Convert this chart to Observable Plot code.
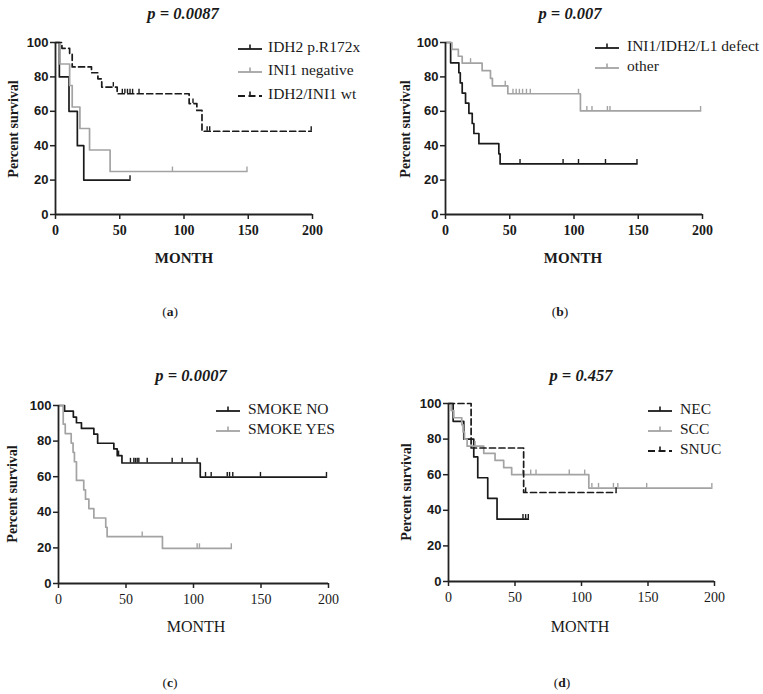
<!DOCTYPE html>
<html><head><meta charset="utf-8">
<script src="https://cdn.jsdelivr.net/npm/d3@7"></script>
<script src="https://cdn.jsdelivr.net/npm/@observablehq/plot@0.6"></script>
<style>
body{margin:0;background:#fff;}
#root{position:relative;width:763px;height:694px;overflow:hidden;font-family:"Liberation Serif",serif;color:#1a1a1a;}
.abs{position:absolute;white-space:nowrap;line-height:1;}
.title{font-weight:bold;font-style:italic;font-size:16.5px;transform:translateX(-50%);}
.ylab{font-weight:bold;font-size:14px;transform:translate(-50%,-50%) rotate(-90deg);}
.xlab{font-size:15px;transform:translateX(-50%);}
.plab{font-size:13.5px;transform:translateX(-50%);}
.leg{font-size:15.5px;transform:translateY(-50%);}
.legsym{transform:translateY(-50%);}
.plot{position:absolute;}
.plot g[aria-label="y-axis tick label"] text{font-family:"Liberation Sans",Arial,sans-serif;font-weight:bold;font-size:13px;}
.plot g[aria-label="x-axis tick label"] text{font-family:"Liberation Serif",serif;font-size:14px;}
.boldx g[aria-label="x-axis tick label"] text{font-weight:bold;}
</style></head><body><div id="root"></div>
<script>
// ---------- data ----------
const monthTicks = [0, 50, 100, 150, 200];
const survivalTicks = [0, 20, 40, 60, 80, 100];

// (a)
const aTitle = "p = 0.0087";
const aNames = ["IDH2 p.R172x", "INI1 negative", "IDH2/INI1 wt"];
const aIdh2Time = [0, 3, 10.5, 17, 22];
const aIdh2Surv = [100, 80, 60, 40, 20];
const aIdh2Cens = [58];
const aIni1Time = [0, 3.5, 11, 13, 19, 26.5, 42.5];
const aIni1Surv = [100, 87.5, 75, 62.5, 50, 37.5, 25];
const aIni1Cens = [91, 149];
const aWtTime = [0, 5, 11, 13, 28, 33, 36, 48, 104, 110, 114];
const aWtSurv = [100, 96.6, 93.1, 85.8, 82.4, 78.9, 74.1, 70.2, 64.5, 60.5, 48.4];
const aWtCens = [45, 52, 54, 56, 58, 60, 65, 107, 118, 120, 199];

// (b)
const bTitle = "p = 0.007";
const bNames = ["INI1/IDH2/L1 defect", "other"];
const bDefTime = [0, 4, 10.4, 11.5, 13, 15.6, 18.2, 20.8, 22.1, 26, 41.5, 42.5];
const bDefSurv = [100, 88.2, 82.4, 76.5, 70.6, 64.7, 58.8, 52.9, 47.1, 41.2, 35.3, 29.4];
const bDefCens = [58, 91.5, 103.5, 124.5, 149];
const bOthTime = [0, 5, 10, 13, 28.5, 35, 36.5, 48.5, 105];
const bOthSurv = [100, 96, 92, 88, 83.6, 79.2, 74.8, 70.2, 60.2];
const bOthCens = [19.5, 46.5, 52.5, 55, 57.5, 60, 63, 66, 103.5, 110, 114, 126, 128, 198.5];

// (c)
const cTitle = "p = 0.0007";
const cNames = ["SMOKE NO", "SMOKE YES"];
const cNoTime = [0, 4.5, 11, 13.3, 17, 26.2, 29, 41, 43.5, 47, 105];
const cNoSurv = [100, 96.8, 93.5, 90.3, 87.1, 83.9, 78.8, 75.6, 71.8, 67.7, 59.8];
const cNoCens = [44.5, 53.3, 55.8, 57, 58.3, 59.5, 65.7, 84.2, 91.6, 102.7, 108.9, 113.1, 125, 126.7, 129.1, 149.6, 198.5];
const cYesTime = [0, 3.5, 5, 9.4, 10.8, 11.8, 13.3, 18.7, 20, 22.5, 26.2, 35, 36, 77];
const cYesSurv = [100, 89.5, 84.2, 78.9, 73.7, 68.4, 57.9, 52.6, 47.4, 42.1, 36.8, 31.6, 26.3, 19.7];
const cYesCens = [62, 102.7, 104.4, 128];

// (d)
const dTitle = "p = 0.457";
const dNames = ["NEC", "SCC", "SNUC"];
const dNecTime = [0, 3.5, 11.5, 19, 22, 29.5, 36.5];
const dNecSurv = [100, 90, 80, 70, 58.3, 46.7, 35];
const dNecCens = [56, 58, 60];
const dSccTime = [0, 2, 4, 10, 11, 12, 14, 26.5, 35, 41.5, 47.5, 105.5];
const dSccSurv = [100, 96, 92, 88, 84, 80, 76, 72, 68, 64, 60, 52.5];
const dSccCens = [20, 55.8, 61.8, 65.8, 90.8, 102.4, 107.8, 112.8, 124, 127.3, 149, 198];
const dSnucTime = [0, 17, 56.5];
const dSnucSurv = [100, 75, 50];
const dSnucCens = [58, 126];

const panelLabels = ["a", "b", "c", "d"];
const axisTitleX = "MONTH";
const axisTitleY = "Percent survival";

// ---------- styles ----------
const BLACK = "#1a1a1a", GRAY = "#a3a3a3";
const solidBlack = {stroke: BLACK, dash: null};
const solidGray = {stroke: GRAY, dash: null};
const dashBlack = {stroke: BLACK, dash: "6,3.5"};

function survAt(times, surv, t) {
  let s = surv[0];
  for (let i = 0; i < times.length; i++) if (times[i] <= t) s = surv[i];
  return s;
}
function curve(times, surv, cens) {
  const pts = times.map((t, i) => ({t, s: surv[i]}));
  const end = Math.max(times[times.length - 1], ...cens);
  pts.push({t: end, s: surv[surv.length - 1]});
  const cpts = cens.map(t => ({t, s: survAt(times, surv, t)}));
  return {pts, cpts};
}

const root = document.getElementById("root");
function addDiv(cls, text, left, top) {
  const d = document.createElement("div");
  d.className = "abs " + cls;
  d.textContent = text;
  d.style.left = left + "px"; d.style.top = top + "px";
  root.appendChild(d);
  return d;
}
function legendSym(style, left, top) {
  const ns = "http://www.w3.org/2000/svg";
  const svg = document.createElementNS(ns, "svg");
  svg.setAttribute("width", 26); svg.setAttribute("height", 10);
  svg.setAttribute("class", "abs legsym");
  svg.style.left = left + "px"; svg.style.top = top + "px";
  const l = document.createElementNS(ns, "line");
  l.setAttribute("x1", 1); l.setAttribute("x2", 25); l.setAttribute("y1", 7); l.setAttribute("y2", 7);
  l.setAttribute("stroke", style.stroke); l.setAttribute("stroke-width", 1.8);
  if (style.dash) l.setAttribute("stroke-dasharray", "7,3.5");
  const t = document.createElementNS(ns, "line");
  t.setAttribute("x1", 13); t.setAttribute("x2", 13); t.setAttribute("y1", 7); t.setAttribute("y2", 2.5);
  t.setAttribute("stroke", style.stroke); t.setAttribute("stroke-width", 1.6);
  svg.appendChild(l); svg.appendChild(t);
  root.appendChild(svg);
}

function panel(cfg) {
  const marks = [];
  for (const s of cfg.series) {
    const {pts, cpts} = curve(s.time, s.surv, s.cens);
    marks.push(Plot.line(pts, {x: "t", y: "s", curve: "step-after", stroke: s.style.stroke,
      strokeWidth: 1.7, strokeDasharray: s.style.dash || undefined}));
    marks.push(Plot.ruleX(cpts, {x: "t", y1: "s", y2: d => d.s + 2.6, stroke: s.style.stroke, strokeWidth: 1.4}));
  }
  marks.push(Plot.axisY({ticks: survivalTicks, tickSize: 5, tickPadding: 2, label: null, stroke: "#222", strokeWidth: 1.5}));
  marks.push(Plot.axisX({ticks: monthTicks, tickSize: 5, tickPadding: 6, label: null, stroke: "#222", strokeWidth: 1.5}));
  marks.push(Plot.ruleX([0], {stroke: "#222", strokeWidth: 1.8}));
  marks.push(Plot.ruleY([0], {stroke: "#222", strokeWidth: 1.8}));
  const svg = Plot.plot({
    width: cfg.w, height: cfg.h,
    marginLeft: cfg.ml, marginRight: cfg.mr, marginTop: cfg.mt, marginBottom: cfg.mb,
    x: {domain: [0, 200]}, y: {domain: [0, 100]},
    style: {background: "transparent", color: "#1a1a1a", overflow: "visible"},
    marks
  });
  svg.classList.add("plot");
  if (cfg.boldX) svg.classList.add("boldx");
  svg.style.left = cfg.left + "px"; svg.style.top = cfg.top + "px";
  root.appendChild(svg);
}

// (a)
panel({left: 0, top: 0, w: 380, h: 250, ml: 55, mr: 68, mt: 42, mb: 36, boldX: true,
  series: [
    {time: aIdh2Time, surv: aIdh2Surv, cens: aIdh2Cens, style: solidBlack},
    {time: aIni1Time, surv: aIni1Surv, cens: aIni1Cens, style: solidGray},
    {time: aWtTime, surv: aWtSurv, cens: aWtCens, style: dashBlack}]});
// (b)
panel({left: 380, top: 0, w: 383, h: 250, ml: 65, mr: 61, mt: 42, mb: 36, boldX: true,
  series: [
    {time: bDefTime, surv: bDefSurv, cens: bDefCens, style: solidBlack},
    {time: bOthTime, surv: bOthSurv, cens: bOthCens, style: solidGray}]});
// (c)
panel({left: 0, top: 330, w: 380, h: 290, ml: 58, mr: 52, mt: 75, mb: 37, boldX: false,
  series: [
    {time: cNoTime, surv: cNoSurv, cens: cNoCens, style: solidBlack},
    {time: cYesTime, surv: cYesSurv, cens: cYesCens, style: solidGray}]});
// (d)
panel({left: 380, top: 330, w: 383, h: 290, ml: 68, mr: 49, mt: 73, mb: 39, boldX: false,
  series: [
    {time: dNecTime, surv: dNecSurv, cens: dNecCens, style: solidBlack},
    {time: dSccTime, surv: dSccSurv, cens: dSccCens, style: solidGray},
    {time: dSnucTime, surv: dSnucSurv, cens: dSnucCens, style: dashBlack}]});

// titles
function italicTitle(text, cx, top) {
  const d = addDiv("title", "", cx, top);
  d.innerHTML = text.replace(/^p/, "<i>p</i>");
}
italicTitle(aTitle, 183, 6);
italicTitle(bTitle, 570, 6);
italicTitle(cTitle, 191, 368);
italicTitle(dTitle, 581, 368);

// y labels
addDiv("ylab", axisTitleY, 14, 129);
addDiv("ylab", axisTitleY, 406, 129);
addDiv("ylab", axisTitleY, 13, 494);
addDiv("ylab", axisTitleY, 407, 492);

// x labels
const xa = addDiv("xlab", axisTitleX, 184, 251); xa.style.fontWeight = "bold";
const xb = addDiv("xlab", axisTitleX, 573, 251); xb.style.fontWeight = "bold";
const xc = addDiv("xlab", axisTitleX, 196, 619); xc.style.fontSize = "16px";
const xd = addDiv("xlab", axisTitleX, 580, 619); xd.style.fontSize = "16px";

// panel labels
function plab(letter, cx, top) {
  const d = addDiv("plab", "", cx, top);
  d.innerHTML = "(<b>" + letter + "</b>)";
}
plab(panelLabels[0], 170, 305);
plab(panelLabels[1], 560, 305);
plab(panelLabels[2], 170, 676);
plab(panelLabels[3], 562, 676);

// legends
function legend(names, styles, symX, textX, rows) {
  names.forEach((n, i) => {
    legendSym(styles[i], symX, rows[i]);
    addDiv("leg", n, textX, rows[i]);
  });
}
legend(aNames, [solidBlack, solidGray, dashBlack], 237, 268, [47, 70, 94]);
legend(bNames, [solidBlack, solidGray], 594, 627, [46, 66]);
legend(cNames, [solidBlack, solidGray], 215, 248, [409, 429]);
legend(dNames, [solidBlack, solidGray, dashBlack], 647, 680, [409, 429, 449]);
</script></body></html>
